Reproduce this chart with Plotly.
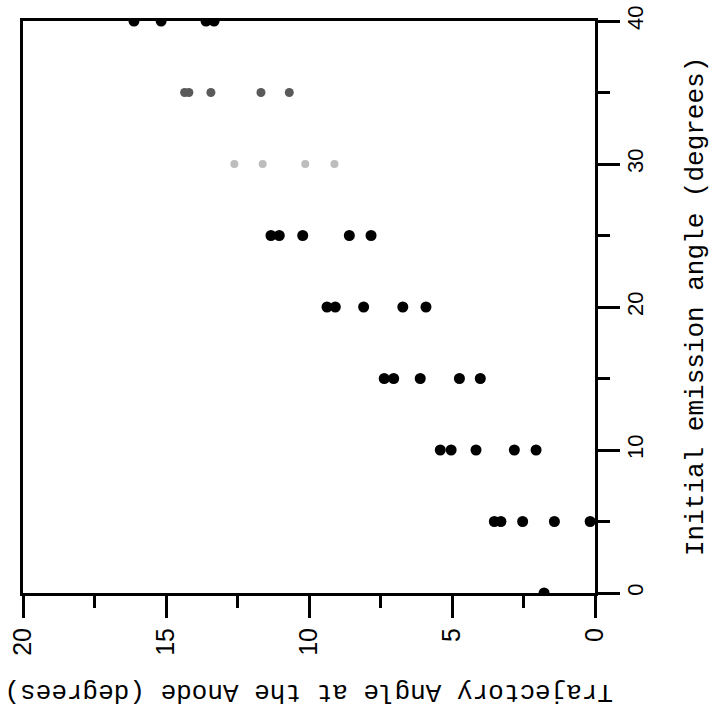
import plotly.graph_objects as go

# Data: initial emission angle (deg) vs trajectory angle at anode (deg)
emission_groups = [0, 5, 10, 15, 20, 25, 30, 35, 40]
trajectory = {
    0: [1.78],
    5: [3.52, 3.29, 2.53, 1.42, 0.17],
    10: [5.41, 5.03, 4.16, 2.82, 2.06],
    15: [7.37, 7.04, 6.11, 4.74, 4.01],
    20: [9.37, 9.08, 8.09, 6.72, 5.91],
    25: [11.33, 11.04, 10.22, 8.59, 7.83],
    30: [12.61, 11.62, 10.13, 9.11],
    35: [14.35, 14.2, 13.43, 11.68, 10.69],
    40: [16.12, 15.17, 13.6, 13.32],
}
group_color = {30: "#bdbdbd", 35: "#5a5a5a"}
group_size = {30: 8, 35: 9}

x_ticks = [0, 5, 10, 15, 20]
y_ticks = [0, 10, 20, 30, 40]

fig = go.Figure()
for g in emission_groups:
    vals = trajectory[g]
    fig.add_trace(go.Scatter(
        x=vals, y=[g] * len(vals), mode="markers",
        marker=dict(color=group_color.get(g, "black"), size=group_size.get(g, 11),
                    line=dict(width=0)),
        showlegend=False, cliponaxis=True,
    ))

axis_common = dict(showgrid=False, zeroline=False, showline=True, linecolor="black",
                   linewidth=3, mirror=True, ticks="outside", tickcolor="black",
                   tickwidth=3, tickangle=-90, automargin=False, layer="above traces")

fig.update_layout(
    width=712, height=711,
    margin=dict(l=23, r=117, t=21, b=118),
    paper_bgcolor="white", plot_bgcolor="white",
    xaxis=dict(range=[20, 0], tickvals=x_ticks, ticklen=22,
               tickfont=dict(family="Liberation Sans, Arial", size=25, color="black"),
               minor=dict(dtick=2.5, tick0=0, ticklen=12, tickwidth=3, tickcolor="black", ticks="outside"),
               **axis_common),
    yaxis=dict(range=[0, 40], side="right", tickvals=y_ticks, ticklen=22,
               ticklabelstandoff=-3,
               tickfont=dict(family="Liberation Sans, Arial", size=22, color="black"),
               minor=dict(dtick=5, tick0=0, ticklen=12, tickwidth=3, tickcolor="black", ticks="outside"),
               **axis_common),
    annotations=[
        dict(text="Initial emission angle (degrees)", xref="paper", yref="paper",
             x=1, xshift=101, y=0.5, xanchor="center", yanchor="middle",
             textangle=-90, showarrow=False,
             font=dict(family="Liberation Mono, Courier New", size=26, color="black")),
        dict(text="Trajectory Angle at the Anode (degrees)", xref="paper", yref="paper",
             x=0.5, y=0, yshift=-99, xanchor="center", yanchor="middle",
             textangle=180, showarrow=False,
             font=dict(family="Liberation Mono, Courier New", size=26, color="black")),
    ],
)

fig.write_html("out.html", config={"displayModeBar": False},
               post_script="document.body.style.margin='0';document.body.style.overflow='hidden';")
